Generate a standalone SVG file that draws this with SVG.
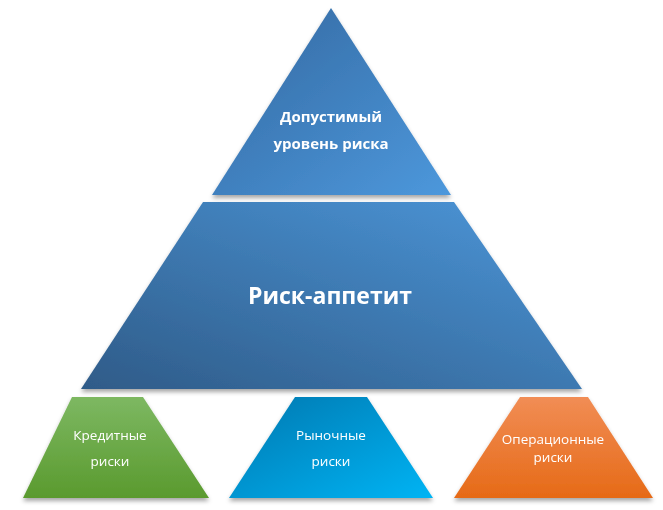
<svg xmlns="http://www.w3.org/2000/svg" width="663" height="510" viewBox="0 0 663 510">
<defs>
<linearGradient id="gTop" x1="0" y1="0" x2="1" y2="1"><stop offset="0" stop-color="#3368a0"/><stop offset="1" stop-color="#4d98dc"/></linearGradient>
<linearGradient id="gMid" x1="0" y1="1" x2="1" y2="0"><stop offset="0" stop-color="#2f5b88"/><stop offset="1" stop-color="#4c97da"/></linearGradient>
<linearGradient id="gGreen" x1="0" y1="0" x2="0" y2="1"><stop offset="0" stop-color="#7db862"/><stop offset="1" stop-color="#5a9a2e"/></linearGradient>
<linearGradient id="gBlue" x1="0" y1="0" x2="1" y2="1"><stop offset="0" stop-color="#0078b0"/><stop offset="1" stop-color="#00b4f4"/></linearGradient>
<linearGradient id="gOrange" x1="0" y1="0" x2="0" y2="1"><stop offset="0" stop-color="#f18d55"/><stop offset="1" stop-color="#e66a17"/></linearGradient>
<filter id="sh" x="-10%" y="-10%" width="120%" height="130%"><feDropShadow dx="0" dy="3" stdDeviation="2" flood-color="#000" flood-opacity="0.35"/></filter>
</defs>
<style>
text{font-family:"Open Sans","Noto Sans","DejaVu Sans",sans-serif;fill:#fff;text-anchor:middle}
.b{font-weight:bold}
.t{font-size:15px}
.m{font-size:23px}
.s{font-size:13.5px}
</style>
<g id="top" filter="url(#sh)">
<polygon points="331,8 451,195 212,195" fill="url(#gTop)"/>
<text class="b t" x="331" y="122">Допустимый</text>
<text class="b t" x="331" y="149">уровень риска</text>
</g>
<g id="middle" filter="url(#sh)">
<polygon points="203,202 454,202 582,389 81,389" fill="url(#gMid)"/>
<text class="b m" x="330" y="304">Риск-аппетит</text>
</g>
<g id="credit" filter="url(#sh)">
<polygon points="72,397 143,397 209,498 23,498" fill="url(#gGreen)"/>
<text class="s" x="110" y="440">Кредитные</text>
<text class="s" x="110" y="466">риски</text>
</g>
<g id="market" filter="url(#sh)">
<polygon points="295,397 367,397 433,498 229,498" fill="url(#gBlue)"/>
<text class="s" x="331" y="440">Рыночные</text>
<text class="s" x="331" y="466">риски</text>
</g>
<g id="operational" filter="url(#sh)">
<polygon points="520,397 588,397 653,498 454,498" fill="url(#gOrange)"/>
<text class="s" x="553" y="444">Операционные</text>
<text class="s" x="553" y="462">риски</text>
</g>
<g id="connectors"/>
</svg>
